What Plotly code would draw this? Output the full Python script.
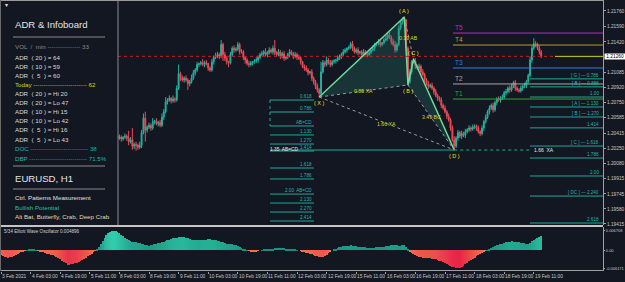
import numpy as np
import plotly.graph_objects as go

# ---------------- data ----------------
FIRST_BAR = 60          # first candle drawn (earlier ones sit under the infoboard)
OPEN0_PIPS = 38         # open of the first drawn candle, pips above 1.20000
close_pips = [
    37, 36, 38, 36, 37, 35, 37, 38, 36, 32,
    34, 27, 29, 28, 26, 28, 42, 58, 45, 48,
    50, 47, 54, 55, 52, 53, 50, 59, 65, 76,
    78, 80, 77, 79, 78, 91, 107, 102, 100, 102,
    100, 96, 98, 102, 108, 111, 117, 118, 119, 117,
    119, 118, 113, 111, 120, 125, 126, 128, 126, 139,
    128, 124, 120, 119, 128, 135, 133, 134, 139, 131,
    131, 125, 122, 118, 117, 119, 120, 121, 122, 125,
    128, 129, 131, 128, 130, 133, 131, 135, 130, 128,
    131, 126, 129, 124, 125, 128, 131, 129, 126, 128,
    125, 124, 120, 115, 113, 111, 108, 109, 102, 98,
    93, 89, 85, 109, 119, 117, 122, 119, 117, 120,
    121, 122, 124, 126, 128, 131, 133, 135, 136, 140,
    135, 131, 133, 130, 131, 128, 131, 129, 128, 130,
    133, 135, 139, 140, 142, 139, 141, 144, 146, 150,
    147, 142, 139, 133, 139, 157, 164, 167, 166, 135,
    98, 109, 120, 121, 115, 113, 115, 109, 106, 100,
    96, 93, 94, 91, 87, 83, 80, 78, 72, 69,
    65, 60, 56, 47, 34, 27, 36, 42, 38, 41,
    39, 43, 45, 47, 46, 48, 49, 47, 43, 41,
    47, 54, 59, 65, 69, 72, 67, 75, 79, 78,
    80, 81, 86, 87, 91, 89, 93, 97, 91, 89,
    88, 91, 93, 94, 98, 105, 122, 135, 140, 139,
    135, 131, 126,
]
upper_wick_pips = [
    2, 3, 1, 2, 3, 2, 1, 3, 2, 8,
    3, 13, 2, 3, 2, 4, 3, 5, 7, 2,
    3, 2, 4, 1, 3, 2, 3, 4, 3, 5,
    2, 3, 1, 4, 2, 3, 10, 2, 3, 2,
    3, 2, 2, 4, 3, 2, 3, 1, 2, 4,
    2, 3, 1, 2, 3, 2, 4, 3, 2, 5,
    2, 3, 2, 1, 3, 2, 3, 2, 3, 2,
    3, 2, 1, 2, 3, 2, 1, 2, 3, 2,
    2, 3, 2, 4, 2, 3, 2, 3, 9, 2,
    3, 2, 2, 3, 1, 2, 3, 2, 2, 3,
    2, 3, 2, 1, 2, 3, 2, 1, 3, 2,
    2, 3, 2, 11, 3, 2, 4, 2, 3, 2,
    2, 1, 3, 2, 2, 3, 2, 1, 2, 2,
    3, 2, 2, 3, 1, 2, 3, 2, 2, 3,
    2, 3, 2, 2, 3, 2, 1, 2, 3, 2,
    3, 2, 3, 4, 2, 3, 2, 2, 3, 1,
    2, 3, 2, 2, 3, 2, 3, 2, 3, 2,
    2, 3, 2, 3, 2, 3, 2, 2, 3, 2,
    3, 2, 3, 2, 3, 4, 2, 3, 2, 3,
    2, 3, 2, 3, 2, 3, 2, 2, 3, 2,
    3, 2, 3, 2, 3, 2, 3, 2, 2, 3,
    2, 3, 2, 3, 2, 3, 3, 2, 3, 2,
    2, 3, 2, 3, 2, 2, 4, 3, 6, 3,
    2, 3, 2,
]
lower_wick_pips = [
    2, 2, 3, 1, 2, 3, 2, 2, 3, 4,
    2, 4, 3, 6, 3, 2, 3, 2, 13, 3,
    2, 3, 2, 3, 2, 3, 2, 2, 3, 2,
    3, 2, 3, 2, 3, 2, 2, 3, 2, 3,
    2, 7, 3, 2, 2, 3, 2, 3, 2, 2,
    3, 2, 3, 2, 2, 3, 2, 2, 3, 2,
    7, 3, 3, 5, 2, 2, 3, 2, 2, 3,
    2, 3, 4, 2, 3, 2, 3, 2, 2, 3,
    2, 2, 3, 2, 3, 2, 2, 3, 3, 2,
    2, 3, 2, 3, 2, 2, 3, 2, 3, 2,
    3, 2, 3, 2, 3, 2, 3, 2, 3, 3,
    3, 3, 4, 2, 2, 3, 2, 2, 3, 2,
    2, 3, 2, 2, 3, 2, 2, 3, 2, 2,
    3, 2, 2, 3, 2, 3, 2, 2, 3, 2,
    2, 2, 3, 2, 2, 3, 2, 2, 2, 3,
    2, 3, 2, 3, 2, 2, 2, 3, 2, 3,
    4, 2, 3, 2, 3, 2, 2, 3, 2, 3,
    2, 3, 2, 2, 3, 2, 3, 2, 3, 2,
    2, 3, 2, 3, 2, 4, 2, 3, 2, 3,
    2, 3, 2, 2, 3, 2, 2, 3, 2, 3,
    2, 3, 2, 2, 3, 2, 3, 2, 3, 2,
    3, 2, 2, 3, 2, 3, 2, 2, 3, 2,
    2, 2, 3, 2, 3, 2, 2, 3, 2, 3,
    2, 3, 2,
]
# 5/34 Elliott Wave Oscillator, units of 1e-4, one per bar from bar 0
ewo_e4 = [
    -16, -19, -22, -24, -25, -24, -22, -19, -16, -12, -9, -6, -3,
    -1, 1, 2, 3, 3, 2,
    1, -1,
    -3, -5, -7, -9, -11, -13, -15, -17, -19,
    -22, -26, -30, -35, -40, -45, -50,
    -49, -48, -46, -44, -42, -39, -36, -33, -29, -25, -21,
    -16, -11, -6, -2,
    3,
    12, 22, 32, 42, 51,
    58, 63, 66, 67, 65,
    62, 58, 53, 48, 43,
    39, 35, 32, 30, 28, 27, 26, 25,
    23, 21, 19, 17, 16, 17,
    18, 20, 22, 24, 26, 28, 30, 32,
    34, 37, 39, 41, 42, 43, 44, 45, 46, 45,
    43, 41, 39, 37, 36, 35, 34, 34, 35, 36,
    37, 37, 38, 38, 37, 36, 35, 33, 31,
    29, 27, 25, 23, 22, 21, 20, 19,
    17, 15, 12, 9, 6, 3, 1,
    -1, -3, -4, -5, -4, -2,
    0, 1, 2, 3, 3, 4,
    5, 6, 7, 8, 9, 9,
    8, 7, 5, 4, 3, 3, 2, 2, 1, 0,
    -2, -4, -6, -8, -10, -12, -14, -16, -18, -20,
    -22, -23, -22, -20, -15, -10,
    -4, 0, 3, 6, 9, 11,
    13, 15, 16, 16, 16, 17, 16, 15, 14, 13, 12,
    11, 10, 10, 9, 9, 8, 8, 9,
    10, 11, 12, 12, 13, 14, 15, 16,
    17, 18, 19, 17, 14, 15, 18, 19, 12,
    4, -3, -8, -12, -16, -19, -22,
    -24, -25, -26, -27, -27, -28, -29, -30, -31, -33, -35,
    -38, -41, -44, -47, -50, -53, -56, -58, -60, -61,
    -60, -57, -53, -48, -43, -38, -33, -29,
    -25, -21, -17, -13, -9, -5, -2, 1,
    5, 9, 12, 15, 17, 19, 21, 23,
    25, 27, 29, 30, 31, 30, 29, 28,
    27, 26, 25, 24, 23, 22,
    26, 31, 35, 39, 43, 46, 49,
]

time_tick_bars = [0, 16, 32, 48, 64, 80, 96, 112, 128, 144, 160, 176, 192, 208, 224, 240, 256, 272, 288]
time_tick_text = ["3 Feb 2021", "4 Feb 03:00", "4 Feb 19:00", "5 Feb 11:00", "8 Feb 03:00",
                  "8 Feb 19:00", "9 Feb 11:00", "10 Feb 03:00", "10 Feb 19:00", "11 Feb 11:00",
                  "12 Feb 03:00", "12 Feb 19:00", "15 Feb 11:00", "16 Feb 03:00", "16 Feb 19:00",
                  "17 Feb 11:00", "18 Feb 03:00", "18 Feb 19:00", "19 Feb 11:00"]
price_ticks = [1.21760, 1.21590, 1.21420, 1.21085, 1.20920, 1.20750, 1.20585, 1.20415,
               1.20250, 1.20080, 1.19915, 1.19745, 1.19580, 1.19415]
osc_ticks = [0.006708, 0.0, -0.006171]
osc_tick_text = ["0.006708", "0.00", "-0.006171"]
last_price = 1.21260
osc_last = "0.004896"

pat_names = ["X", "A", "B", "C", "D"]
pat_bars = [172, 218, 220, 223, 245]
pat_prices = [1.20812, 1.21694, 1.20945, 1.21231, 1.20228]
ratio_text = ["0.85 XA", "0.39 AB", "3.49 BC", "1.66 XA"]

left_fib_text = ["0.618", "0.786", "AB=CD", "1.130", "1.270", "1.414", "1.618", "1.786",
                 "2.00  AB=CD", "2.130", "2.270", "2.414"]
left_fib_prices = [1.20779, 1.20647, 1.20493, 1.20394, 1.20294, 1.20217, 1.20030, 1.19909,
                   1.19743, 1.19644, 1.19545, 1.19446]
right_fib_text = ["[ G ] — 0.786", "[ B ] — 0.886", "1.00", "[ A ] — 1.130", "[ B ] — 1.270",
                  "1.414", "[ C ] — 1.618", "1.786", "2.00", "[ DC ] — 2.240", "2.618"]
right_fib_prices = [1.21012, 1.20924, 1.20812, 1.20702, 1.20592, 1.20472, 1.20272, 1.20140,
                    1.19942, 1.19721, 1.19424]
t_names = ["T5", "T4", "T3", "T2", "T1"]
t_prices = [1.21517, 1.21385, 1.21132, 1.20956, 1.20790]
t_colors = ["#b62fb6", "#b4a22a", "#2f7fe0", "#a8a8a8", "#2fa83a"]

info_rows = [
    ("VOL  /  min", " ---------------- 33", "#8a8a8a"),
    ("ADR  ( 20 ) = 64", "", "#d8d8d8"),
    ("ADR  ( 10 ) = 59", "", "#d8d8d8"),
    ("ADR  (  5  ) = 60", "", "#d8d8d8"),
    ("Today", " -------------------------- 62", "#d6d60c"),
    ("ADR  ( 20 ) = Hi 20", "", "#d8d8d8"),
    ("ADR  ( 20 ) = Lo 47", "", "#d8d8d8"),
    ("ADR  ( 10 ) = Hi 15", "", "#d8d8d8"),
    ("ADR  ( 10 ) = Lo 42", "", "#d8d8d8"),
    ("ADR  (  5  ) = Hi 16", "", "#d8d8d8"),
    ("ADR  (  5  ) = Lo 43", "", "#d8d8d8"),
    ("DOC", " ---------------------------- 38", "#1fb3b3"),
    ("DBP", " ---------------------------- 71.5%", "#1fb3b3"),
]

# ---------------- geometry ----------------
BG = "#131722"
W, H = 625, 282
MR, MB = 22, 11
PW, PH = W - MR, H - MB          # plot area 603 x 271
BAR_PX, BAR0_PX = 1.85, 1.0      # pixels per bar, pixel of bar 0
X_MIN = (0 - BAR0_PX) / BAR_PX
X_MAX = (PW - BAR0_PX) / BAR_PX
MAIN_BOTTOM_PX, OSC_TOP_PX = 225, 227
MAIN_DOM = [1 - MAIN_BOTTOM_PX / PH, 1]
OSC_DOM = [0, 1 - OSC_TOP_PX / PH]
Y_RANGE = [1.19402, 1.21881]
OSC_RANGE = [-0.0071, 0.0080]
FONT = "Liberation Sans"


def bx(xpx):
    return (xpx - BAR0_PX) / BAR_PX


def px(x):
    return x / PW


def py(y):
    return 1 - y / PH


# ---------------- candles ----------------
close = 1.2 + np.array(close_pips) / 1e4
opens = np.concatenate([[1.2 + OPEN0_PIPS / 1e4], close[:-1]])
high = np.maximum(opens, close) + np.array(upper_wick_pips) / 1e4
low = np.minimum(opens, close) - np.array(lower_wick_pips) / 1e4
bars = np.arange(FIRST_BAR, FIRST_BAR + len(close_pips))

UP, DN = "#22b3a0", "#ef4a55"
fig = go.Figure()

# pattern fills (behind candles)
pb, pp = pat_bars, pat_prices
fig.add_trace(go.Scatter(x=[pb[0], pb[1], pb[2], pb[0]], y=[pp[0], pp[1], pp[2], pp[0]],
                         fill="toself", fillcolor="rgba(40,130,110,0.28)", mode="none",
                         xaxis="x", yaxis="y"))
fig.add_trace(go.Scatter(x=[pb[2], pb[3], pb[4], pb[2]], y=[pp[2], pp[3], pp[4], pp[2]],
                         fill="toself", fillcolor="rgba(40,130,110,0.28)", mode="none",
                         xaxis="x", yaxis="y"))

fig.add_trace(go.Candlestick(x=bars, open=opens, high=high, low=low, close=close,
                             increasing=dict(line=dict(color=UP, width=1), fillcolor=UP),
                             decreasing=dict(line=dict(color=DN, width=1), fillcolor=DN),
                             whiskerwidth=0, xaxis="x", yaxis="y", hoverinfo="skip"))

# dotted ratio legs
for a, b in [(0, 2), (1, 3), (2, 4), (0, 4)]:
    fig.add_trace(go.Scatter(x=[pb[a], pb[b]], y=[pp[a], pp[b]], mode="lines",
                             line=dict(color="#9a9a9a", width=1, dash="dot"),
                             xaxis="x", yaxis="y"))
# solid pattern legs
fig.add_trace(go.Scatter(x=pb, y=pp, mode="lines", line=dict(color="#6fdc9a", width=1.5),
                         xaxis="x", yaxis="y"))

# oscillator
ewo = np.array(ewo_e4) / 1e4
mx = np.abs(ewo).max()
cols = []
for v in ewo:
    t = min(abs(v) / mx, 1.0)
    if v >= 0:
        c0, c1 = (24, 140, 122), (48, 204, 172)
    else:
        c0, c1 = (242, 120, 80), (232, 28, 72)
    c = tuple(int(c0[k] + (c1[k] - c0[k]) * t) for k in range(3))
    cols.append("rgb(%d,%d,%d)" % c)
fig.add_trace(go.Bar(x=np.arange(len(ewo)), y=ewo, marker=dict(color=cols, line=dict(width=0)),
                     width=0.62, xaxis="x", yaxis="y2"))

shapes = []
ann = []

# horizontal price lines
shapes.append(dict(type="line", xref="x", yref="y", x0=FIRST_BAR, x1=bx(555), y0=last_price,
                   y1=last_price, line=dict(color="#c81e1e", width=1, dash="dot")))
shapes.append(dict(type="line", xref="x", yref="y", x0=bx(555), x1=X_MAX, y0=last_price,
                   y1=last_price, line=dict(color="#d0d010", width=1)))

for name, pr, colr in zip(t_names, t_prices, t_colors):
    shapes.append(dict(type="line", xref="x", yref="y", x0=bx(453), x1=X_MAX, y0=pr, y1=pr,
                       line=dict(color=colr, width=1)))
    ann.append(dict(xref="x", yref="y", x=bx(453), y=pr, text=name, showarrow=False,
                    xanchor="left", yanchor="bottom", yshift=0,
                    font=dict(family=FONT, size=6.5, color=colr)))

TEAL = "#1fa89c"
# left fib box
for txt, pr in zip(left_fib_text, left_fib_prices):
    shapes.append(dict(type="line", xref="x", yref="y", x0=bx(270), x1=bx(314), y0=pr, y1=pr,
                       line=dict(color=TEAL, width=1)))
    ann.append(dict(xref="x", yref="y", x=bx(314), y=pr, text=txt, showarrow=False,
                    xanchor="right", yanchor="bottom", yshift=-1,
                    font=dict(family=FONT, size=4.6, color="#22b7aa")))
shapes.append(dict(type="line", xref="x", yref="y", x0=bx(270), x1=bx(270),
                   y0=left_fib_prices[0], y1=left_fib_prices[2],
                   line=dict(color=TEAL, width=1, dash="dot")))
# D level
shapes.append(dict(type="line", xref="x", yref="y", x0=bx(270), x1=pb[4], y0=pp[4], y1=pp[4],
                   line=dict(color=TEAL, width=1)))
shapes.append(dict(type="line", xref="x", yref="y", x0=pb[4], x1=bx(531), y0=pp[4], y1=pp[4],
                   line=dict(color=TEAL, width=1, dash="dot")))
ann.append(dict(xref="x", yref="y", x=bx(300), y=pp[4], text="1.35  AB=CD", showarrow=False,
                xanchor="right", yanchor="middle", yshift=1,
                font=dict(family=FONT, size=4.8, color="#e8e8e8")))
ann.append(dict(xref="x", yref="y", x=bx(532), y=pp[4], text="1.66  XA", showarrow=False,
                xanchor="left", yanchor="middle",
                font=dict(family=FONT, size=5, color="#e8e8e8")))

# right fib box
for txt, pr in zip(right_fib_text, right_fib_prices):
    shapes.append(dict(type="line", xref="x", yref="y", x0=bx(530), x1=X_MAX, y0=pr, y1=pr,
                       line=dict(color=TEAL, width=1)))
    ann.append(dict(xref="x", yref="y", x=bx(601), y=pr, text=txt, showarrow=False,
                    xanchor="right", yanchor="bottom", yshift=-1,
                    font=dict(family=FONT, size=4.6, color="#22b7aa")))

# pattern point labels
shifts = [-6, 6, -6, 6, -6]
for n, b, p, s in zip(pat_names, pb, pp, shifts):
    ann.append(dict(xref="x", yref="y", x=b, y=p, text="( %s )" % n, showarrow=False,
                    yshift=s, font=dict(family=FONT, size=5.5, color="#e6e61a")))
for (a, b), txt in zip([(0, 2), (1, 3), (2, 4), (0, 4)], ratio_text):
    ann.append(dict(xref="x", yref="y", x=(pb[a] + pb[b]) / 2, y=(pp[a] + pp[b]) / 2, text=txt,
                    showarrow=False, font=dict(family=FONT, size=5.2, color="#d8d820")))

# current price box
ann.append(dict(xref="paper", yref="y", x=1, y=last_price, text=" 1.21260 ", showarrow=False,
                xanchor="left", xshift=1, bgcolor="#ffffff", borderpad=0,
                font=dict(family=FONT, size=4.8, color="#000000")))

# time labels
for b, txt in zip(time_tick_bars, time_tick_text):
    ann.append(dict(xref="x", yref="paper", x=b, y=py(276.5), text=txt, showarrow=False,
                    xanchor="left", yanchor="middle", xshift=-1,
                    font=dict(family=FONT, size=4.8, color="#c8c8c8")))

# oscillator title
ann.append(dict(xref="paper", yref="paper", x=px(2), y=py(231), text="5/34 Elliott Wave Oscillator " + osc_last,
                showarrow=False, xanchor="left", yanchor="middle",
                font=dict(family=FONT, size=4.6, color="#d0d0d0")))

# ---- infoboard panel ----
shapes.append(dict(type="rect", xref="paper", yref="paper", x0=0, x1=px(118), y0=py(MAIN_BOTTOM_PX),
                   y1=1, fillcolor=BG, line=dict(width=0), layer="above"))
shapes.append(dict(type="line", xref="paper", yref="paper", x0=px(118), x1=px(118),
                   y0=py(MAIN_BOTTOM_PX), y1=1, line=dict(color="#8a8a8a", width=1), layer="above"))
for yy in (37, 166, 189):
    shapes.append(dict(type="line", xref="paper", yref="paper", x0=px(13), x1=px(105), y0=py(yy),
                       y1=py(yy), line=dict(color="#8c8c8c", width=1), layer="above"))
# pane frames
shapes.append(dict(type="line", xref="paper", yref="paper", x0=0, x1=1, y0=py(0.5), y1=py(0.5),
                   line=dict(color="#9a9a9a", width=1), layer="above"))
shapes.append(dict(type="line", xref="paper", yref="paper", x0=0, x1=1, y0=py(226), y1=py(226),
                   line=dict(color="#c4c4c4", width=2), layer="above"))
shapes.append(dict(type="line", xref="paper", yref="paper", x0=0, x1=1, y0=py(270.5), y1=py(270.5),
                   line=dict(color="#a0a0a0", width=1), layer="above"))
shapes.append(dict(type="line", xref="paper", yref="paper", x0=px(0.5), x1=px(0.5), y0=0, y1=1,
                   line=dict(color="#6a6a6a", width=1), layer="above"))

ann.append(dict(xref="paper", yref="paper", x=px(3), y=py(4), text="▾", showarrow=False,
                xanchor="left", yanchor="middle", font=dict(family="DejaVu Sans", size=6, color="#e0e0e0")))
ann.append(dict(xref="paper", yref="paper", x=px(13), y=py(25), text="ADR &amp; Infoboard", showarrow=False,
                xanchor="left", yanchor="middle", font=dict(family=FONT, size=9.6, color="#e4e4e4")))
row_y = [47, 57, 66, 75, 84, 93, 102, 111, 121, 130, 139, 148, 158]
for (lab, val, colr), yy in zip(info_rows, row_y):
    ann.append(dict(xref="paper", yref="paper", x=px(13), y=py(yy), text=lab + val, showarrow=False,
                    xanchor="left", yanchor="middle", font=dict(family=FONT, size=6.2, color=colr)))
ann.append(dict(xref="paper", yref="paper", x=px(13), y=py(178), text="EURUSD, H1", showarrow=False,
                xanchor="left", yanchor="middle", font=dict(family=FONT, size=9.6, color="#e4e4e4")))
ann.append(dict(xref="paper", yref="paper", x=px(13), y=py(197), text="Ctrl. Patterns Measurement",
                showarrow=False, xanchor="left", yanchor="middle",
                font=dict(family=FONT, size=6.2, color="#e0e0e0")))
ann.append(dict(xref="paper", yref="paper", x=px(13), y=py(207), text="Bullish Potential",
                showarrow=False, xanchor="left", yanchor="middle",
                font=dict(family=FONT, size=6.2, color="#20c0a4")))
ann.append(dict(xref="paper", yref="paper", x=px(13), y=py(216), text="Alt Bat, Butterfly, Crab, Deep Crab",
                showarrow=False, xanchor="left", yanchor="middle",
                font=dict(family=FONT, size=6.2, color="#e6d8b0")))

fig.update_layout(
    width=W, height=H, template="none",
    margin=dict(l=0, r=MR, t=0, b=MB, pad=0),
    paper_bgcolor=BG, plot_bgcolor=BG,
    showlegend=False, hovermode=False, bargap=0,
    shapes=shapes, annotations=ann,
    xaxis=dict(domain=[0, 1], range=[X_MIN, X_MAX], anchor="y2", showgrid=False, zeroline=False,
               showline=False, tickvals=time_tick_bars, ticks="outside", ticklen=2,
               tickcolor="#a0a0a0", showticklabels=False, rangeslider=dict(visible=False),
               automargin=False, fixedrange=True),
    yaxis=dict(domain=MAIN_DOM, range=Y_RANGE, side="right", anchor="x", showgrid=False,
               zeroline=False, showline=True, linecolor="#a0a0a0", linewidth=1,
               tickvals=price_ticks, ticktext=["%.5f" % v for v in price_ticks],
               ticks="outside", ticklen=2, tickcolor="#a0a0a0",
               tickfont=dict(family=FONT, size=4.8, color="#c8c8c8"), automargin=False,
               fixedrange=True),
    yaxis2=dict(domain=OSC_DOM, range=OSC_RANGE, side="right", anchor="x", showgrid=False,
                zeroline=False, showline=True, linecolor="#a0a0a0", linewidth=1,
                tickvals=osc_ticks, ticktext=osc_tick_text, ticks="outside", ticklen=1,
                tickcolor="#a0a0a0", tickfont=dict(family=FONT, size=4.0, color="#c8c8c8"),
                automargin=False, fixedrange=True),
)

fig.write_html("out.html")
